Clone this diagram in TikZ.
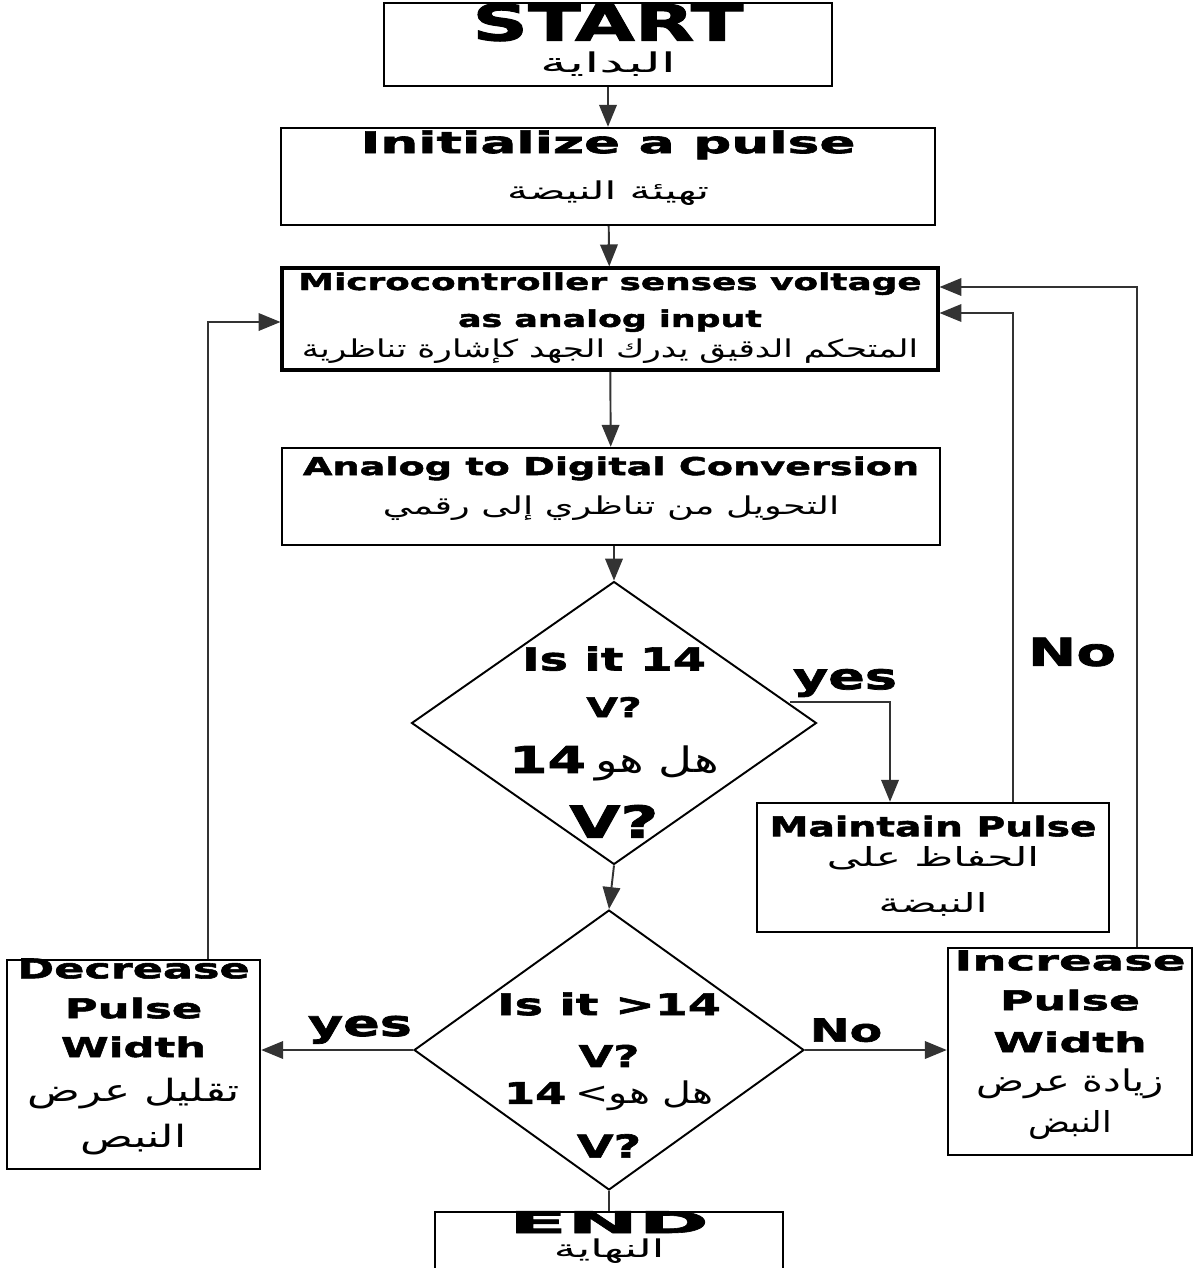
\documentclass[tikz,border=0pt]{standalone}
\usepackage{fontspec}
\setmainfont{DejaVu Sans}
\newfontfamily\engfont[FakeStretch=1.5,FakeBold=2]{DejaVu Sans}
\newfontfamily\arabicfont[Script=Arabic,FakeStretch=1.33]{DejaVu Sans}
\TeXXeTstate=1
\usepackage{tikz}
\usetikzlibrary{shapes.geometric}
\usetikzlibrary{arrows.meta}
\newcommand{\fsz}[2]{\fontsize{#1}{#2}\selectfont}
\newcommand{\eng}{\engfont\bfseries}
\newcommand{\en}[3]{\scalebox{#2}[1]{\fsz{#1}{#1}#3}}
\newcommand{\arab}[3]{\scalebox{#2}[1]{\arabicfont\mdseries\fsz{#1}{#1}#3}}

\begin{document}
\begin{tikzpicture}
[x=0.02cm,y=-0.02cm,
box/.style={rectangle,draw=black,line width=1.4pt,align=center,inner sep=0pt,text depth=0pt,
  font={\eng\fsz{10}{0}\lineskiplimit=-1000pt\relax}},
decision/.style={diamond,draw=black,line width=1.1pt,inner sep=0pt},
dtext/.style={align=center,inner sep=0pt,text depth=0pt,
  font={\eng\fsz{10}{0}\lineskiplimit=-1000pt\relax}},
flow/.style={-{Triangle[length=12.5pt,width=10pt]},draw=black!80,line width=1.1pt},
link/.style={-,draw=black!80,line width=1.1pt},
lbl/.style={font=\eng,inner sep=1pt}]

\useasboundingbox (0,0) rectangle (1193,1268);

% boxes down the middle
\node at (608,44.5) [box,minimum width=8.96cm,minimum height=1.66cm,text height=32.3pt] (start)
  {\en{28.5}{1.03}{START}\\[18.4pt] \arab{15.5}{1.5}{\beginR البداية\endR}};
\node at (608,176.5) [box,minimum width=13.08cm,minimum height=1.94cm,text height=26.6pt] (init)
  {\en{17}{1.19}{Initialize a pulse}\\[26.6pt] \arab{14}{1.29}{\beginR تهيئة النيضة\endR}};
\node at (610,319) [box,line width=1.8pt,minimum width=13.12cm,minimum height=2.04cm,text height=44.2pt] (micro)
  {\en{13.2}{1.03}{Microcontroller senses voltage}\\[21pt] \en{13.2}{1}{as analog input}\\[17.6pt]
   \arab{14}{1.05}{\beginR المتحكم الدقيق يدرك الجهد كإشارة تناظرية\endR}};
\node at (611,496.5) [box,minimum width=13.16cm,minimum height=1.94cm,text height=21pt] (adc)
  {\en{14}{1.035}{Analog to Digital Conversion}\\[22.7pt] \arab{14}{1.12}{\beginR التحويل من تناظري إلى رقمي\endR}};

% first question
\node at (614,723) [decision,minimum width=8.1cm,minimum height=5.66cm] (q14)
  [label={[dtext,text height=130.4pt]center:{\en{18}{1}{Is it 14}\\[26.6pt] \en{15.5}{1}{V?}\\[31.7pt]
   \en{21}{1}{14} \arab{20}{1}{\beginR هل هو\endR}\\[36.8pt] \en{25}{1}{V?}}}] {};
\node at (933,867.5) [box,minimum width=7.04cm,minimum height=2.58cm,text height=51.6pt] (maint)
  {\en{15.5}{0.96}{Maintain Pulse}\\[17pt] \arab{15}{1.2}{\beginR الحفاظ على\endR}\\[26.6pt]
   \arab{15}{1.2}{\beginR النبضة\endR}};

% second question
\node at (609,1050) [decision,minimum width=7.8cm,minimum height=5.6cm] (qgt)
  [label={[dtext,text height=122.5pt]center:{\en{17}{1.06}{Is it >14}\\[29.5pt] \en{17}{1}{V?}\\[21pt]
   \en{17}{1}{14} \arab{17}{1}{\beginR هل هو>\endR}\\[30.6pt] \en{18}{1}{V?}}}] {};
\node at (133.5,1064.5) [box,minimum width=5.06cm,minimum height=4.18cm,text height=94.7pt] (decr)
  {\en{15.5}{1.09}{Decrease}\\[22.7pt] \en{15.5}{1.1}{Pulse}\\[22.1pt] \en{15.5}{1.06}{Width}\\[25.5pt]
   \arab{17.5}{1.07}{\beginR تقليل عرض\endR}\\[26.1pt] \arab{17.5}{1.07}{\beginR النبص\endR}};
\node at (1070,1051.5) [box,minimum width=4.88cm,minimum height=4.14cm,text height=92.4pt] (incr)
  {\en{15.5}{1.18}{Increase}\\[22.7pt] \en{15.5}{1.12}{Pulse}\\[23.8pt] \en{15.5}{1.12}{Width}\\[22.7pt]
   \arab{17}{1}{\beginR زيادة عرض\endR}\\[23.2pt] \arab{16.5}{0.9}{\beginR النبض\endR}};
\node at (609,1252) [box,minimum width=6.96cm,minimum height=1.6cm,text height=6.8pt] (endb)
  {\en{17}{1.9}{END}\\[14.2pt] \arab{14}{1.37}{\beginR النهاية\endR}};

% main flow
\draw [flow] (start) to (init);
\draw [flow] (init) to (micro);
\draw [flow] (micro) to (adc);
\draw [flow] (adc.south -| q14.north) to (q14.north);
\draw [flow] (q14.south) to (qgt.north);
\draw [link] (qgt.south) to (endb.north);

% yes / no branches
\coordinate (yes14) at (790,702);
\draw [flow] (yes14) -| ([xshift=-0.86cm]maint.north);
\node at (845,683) [lbl] (yeslbl) {\fsz{20.5}{22}yes};
\draw [flow] (qgt.west) to node [lbl,above=2pt,pos=0.35] (yesgt) {\fsz{20.5}{22}yes} (qgt.west -| decr.east);
\draw [flow] (qgt.east) to node [lbl,above=3pt,pos=0.29] (nogt) {\fsz{18}{20}No} (qgt.east -| incr.west);

% loops back to the microcontroller
\draw [flow] ([xshift=1.6cm]maint.north) |- ([yshift=0.12cm]micro.east);
\draw [flow] ([xshift=1.34cm]incr.north) |- ([yshift=0.64cm]micro.east);
\draw [flow] ([xshift=1.49cm]decr.north) |- ([yshift=-0.06cm]micro.west);
\node at (1072,652) [lbl] (nolbl) {\fsz{22}{24}No};
\end{tikzpicture}
\end{document}
